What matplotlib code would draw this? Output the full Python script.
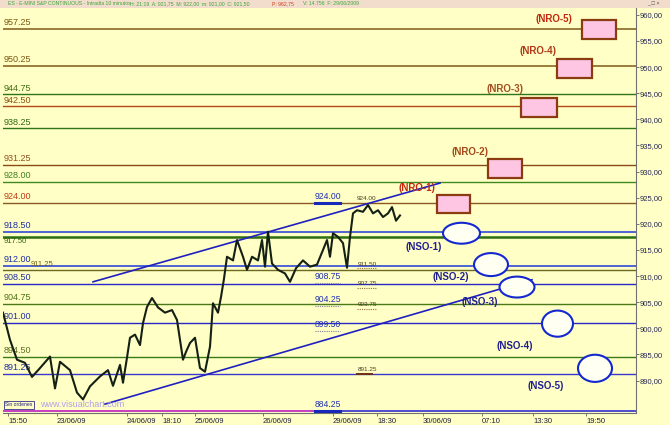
import matplotlib.pyplot as plt
from matplotlib.patches import Rectangle, Ellipse
import numpy as np

plt.rcParams['font.family'] = ['Liberation Sans', 'DejaVu Sans']

# price trace (10 min bars, x = bar position on the time axis)
price_x = [3, 10, 17, 25, 32, 40, 50, 55, 60, 70, 77, 83, 90, 100, 108, 113, 120, 123,
           127, 130, 135, 140, 143, 147, 152, 158, 165, 172, 177, 180, 183, 186, 190, 195,
           200, 205, 210, 213, 218, 221, 224, 227, 233, 237, 243, 247, 252, 258, 262, 265,
           268, 272, 278, 285, 290, 296, 303, 310, 317, 323, 327, 330, 333, 338, 343, 347,
           350, 353, 357, 363, 368, 373, 378, 383, 388, 392, 396, 400]
price_y = [903.0, 897.8, 894.0, 893.4, 890.7, 892.4, 894.6, 888.5, 893.6, 892.0, 887.7, 886.4,
           888.9, 890.8, 892.0, 889.0, 893.0, 889.6,
           894.4, 898.2, 898.8, 896.8, 901.0, 904.1, 905.8, 904.0, 903.0, 903.5, 901.6, 897.8,
           894.0, 895.5, 897.2, 898.2, 892.4, 891.7, 896.5, 904.8, 903.0, 906.0, 909.5, 913.7,
           913.0, 916.9, 913.7, 911.2, 913.7, 913.0, 916.9, 911.8, 918.5, 912.4, 911.2, 910.5,
           908.9, 911.5, 913.0, 911.8, 912.2, 915.0, 916.9, 913.7, 918.2, 917.5, 916.3, 911.6,
           917.5, 922.0, 922.6, 922.3, 923.6, 922.0, 922.6, 921.3, 922.0, 923.2, 920.6, 921.6]

# horizontal levels
level_prices = [957.25, 950.25, 944.75, 942.50, 938.25, 931.25, 928.00, 924.00, 918.50,
                917.50, 912.00, 911.25, 908.50, 904.75, 901.00, 894.50, 891.25, 884.25]
level_labels = ['957.25', '950.25', '944.75', '942.50', '938.25', '931.25', '928.00', '924.00',
                '918.50', '917.50', '912.00', '911.25', '908.50', '904.75', '901.00', '894.50',
                '891.25', '']
level_colors = ['#7d5a18', '#7d5a18', '#2f7418', '#b04818', '#2f7418', '#8a4a18', '#3f8a20',
                '#8a5a20', '#3048d8', '#2c6e10', '#3048d8', '#6e6a20', '#2828c8', '#4a7a18',
                '#2828c8', '#3a7a18', '#3838d0', '#3030d0']
label_colors = ['#7a5810', '#7a5810', '#3e6e10', '#8a5010', '#2e6a10', '#905020', '#3e8020',
                '#c03818', '#2030a0', '#306010', '#2030a0', '#706010', '#2030a0', '#4a7010',
                '#2030a0', '#5a7020', '#2030a0', '#2030a0']
level_widths = [1.1, 1.1, 1.0, 1.0, 1.0, 1.0, 1.0, 1.0, 1.2, 1.8, 1.2, 1.0, 1.0, 1.0, 1.0, 1.0, 1.0, 1.2]

# channel lines (x0, p0, x1, p1)
channels = [(93, 908.9, 440, 927.8), (105, 885.5, 532, 909.3)]

# NRO boxes
nro_names = ['(NRO-1)', '(NRO-2)', '(NRO-3)', '(NRO-4)', '(NRO-5)']
nro_x = [(437, 470), (488, 522), (521, 557), (557, 592), (582, 616)]
nro_p = [(922.0, 925.6), (928.8, 932.4), (940.4, 944.1), (947.9, 951.5), (955.3, 959.0)]
nro_lab = [(417, 926.8), (470, 933.75), (505, 945.8), (538, 953.1), (554, 959.2)]
nro_col = ['#c82810', '#a04818', '#a05020', '#b03818', '#c02810']

# NSO ellipses
nso_names = ['(NSO-1)', '(NSO-2)', '(NSO-3)', '(NSO-4)', '(NSO-5)']
nso_c = [(461.5, 918.2), (491, 912.2), (517, 907.9), (557.5, 900.9), (595, 892.35)]
nso_wh = [(37, 4.0), (34, 4.4), (35, 4.0), (31, 5.0), (34, 5.2)]
nso_lab = [(424, 915.6), (451, 909.85), (480, 905.1), (515, 896.65), (546, 889.0)]

# value tags inside the chart
tag_blue = ['924.00', '908.75', '904.25', '899.50', '884.25']
tag_blue_p = [924.00, 908.75, 904.25, 899.50, 884.25]
tag_small = ['924.00', '911.50', '907.75', '903.75', '891.25']
tag_small_p = [924.00, 911.50, 907.75, 903.75, 891.25]

tick_pos = [8, 57, 127, 162, 195, 263, 333, 377, 423, 482, 533, 586]
tick_lab = ['15:50', '23/06/09', '24/06/09', '18:10', '25/06/09', '26/06/09', '29/06/09',
            '18:30', '30/06/09', '07:10', '13:30', '19:50']
yticks = [890, 895, 900, 905, 910, 915, 920, 925, 930, 935, 940, 945, 950, 955, 960]

bg = '#ffffc6'
fig = plt.figure(figsize=(6.7, 4.25), dpi=100, facecolor=bg)
ax = fig.add_axes([3/670, 12/425, 633/670, 405/425], facecolor=bg)
ax.set_xlim(3, 636)
ax.set_ylim(883.8, 961.3)

# title bar
fig.patches.append(Rectangle((0, 1 - 7.5/425), 1, 7.5/425, transform=fig.transFigure,
                             facecolor='#f2dccb', edgecolor='none'))
ty = 1 - 3.8/425
fig.text(8/670, ty, 'ES - E-MINI S&P CONTINUOUS - Intradia 10 minutos', fontsize=3.7,
         color='#38a838', va='center')
fig.text(130/670, ty, 'H: 21:19  A: 921,75  M: 922,00  m: 921,00  C: 921,50', fontsize=3.7,
         color='#38a838', va='center')
fig.text(272/670, ty, 'P: 962,75', fontsize=3.7, color='#d04020', va='center')
fig.text(303/670, ty, 'V: 14.756  F: 29/06/2009', fontsize=3.7, color='#38a838', va='center')
fig.text(0.985, ty, '_ □ ×', fontsize=4, color='#505050', va='center', ha='right')

for p, c, w in zip(level_prices, level_colors, level_widths):
    ax.axhline(p, color=c, lw=w, zorder=2)
ax.plot([3, 314], [884.25, 884.25], color='#e040c0', lw=1.2, zorder=2)

for p, t, c in zip(level_prices, level_labels, label_colors):
    if not t:
        continue
    if t == '917.50':
        # crowded pair: tucked under its own line
        ax.annotate(t, (4, p), xytext=(0, -1.0), textcoords='offset points',
                    fontsize=5.5, color=c, va='top', ha='left', zorder=4)
    elif t == '911.25':
        # crowded pair: shifted right of 912.00
        ax.annotate(t, (31, p), xytext=(0, 1.0), textcoords='offset points',
                    fontsize=5.5, color=c, va='bottom', ha='left', zorder=4)
    else:
        ax.annotate(t, (4, p), xytext=(0, 1.2), textcoords='offset points',
                    fontsize=6.5, color=c, va='bottom', ha='left', zorder=4)

for x0, p0, x1, p1 in channels:
    ax.plot([x0, x1], [p0, p1], color='#2020c0', lw=1.2, zorder=3)

ax.plot(price_x, price_y, color='#142014', lw=1.5, zorder=5)

for (xl, xr), (lo, hi), name, (lx, lp), col in zip(nro_x, nro_p, nro_names, nro_lab, nro_col):
    ax.add_patch(Rectangle((xl, lo), xr - xl, hi - lo, facecolor='#ffc6e4',
                           edgecolor='#8a3c10', lw=1.6, zorder=6))
    ax.text(lx, lp, name, color=col, fontsize=7, fontweight='bold', ha='center', va='center', zorder=7)

for (cx, cp), (w, h), name, (lx, lp) in zip(nso_c, nso_wh, nso_names, nso_lab):
    ax.add_patch(Ellipse((cx, cp), w, h, facecolor='#fffff2', edgecolor='#1428d0', lw=1.5, zorder=6))
    ax.text(lx, lp, name, color='#202090', fontsize=7, fontweight='bold', ha='center', va='center', zorder=7)

for t, p in zip(tag_blue, tag_blue_p):
    ax.annotate(t, (328, p), xytext=(0, 1.5), textcoords='offset points', fontsize=6.2,
                color='#2030b0', ha='center', va='bottom', zorder=7)
    if t in ('924.00', '884.25'):
        ax.plot([315, 340], [p, p], color='#1828b8', lw=2.2, zorder=6)
    else:
        ax.plot([315, 340], [p, p], color='#8080a0', lw=0.8, ls=(0, (1, 1)), zorder=6)

for t, p in zip(tag_small, tag_small_p):
    ax.annotate(t, (367, p), xytext=(0, 1.2), textcoords='offset points', fontsize=4.6,
                color='#4a3a20', ha='center', va='bottom', zorder=7)
    if t == '891.25':
        ax.plot([357, 372], [p, p], color='#703010', lw=1.4, zorder=6)
    elif t != '924.00':
        ax.plot([357, 377], [p, p], color='#907040', lw=0.8, ls=(0, (1, 1)), zorder=6)

ax.text(5, 885.35, 'Sin ordenes', fontsize=3.6, color='#202080', va='center', ha='left', zorder=8,
        bbox=dict(boxstyle='square,pad=0.25', facecolor=bg, edgecolor='#303090', lw=0.6))
ax.text(40, 885.35, 'www.visualchart.com', fontsize=6.5, color='#b0a0e8', va='center', ha='left', zorder=8)

ax.yaxis.tick_right()
ax.set_yticks(yticks)
ax.set_yticklabels([('%.2f' % v).replace('.', ',') for v in yticks])
ax.set_xticks(tick_pos)
ax.set_xticklabels(tick_lab, ha='left')
ax.tick_params(axis='y', labelsize=5.5, length=2, width=0.6, pad=0.8, colors='#606060')
ax.tick_params(axis='y', labelcolor='#282858')
ax.tick_params(axis='x', labelsize=5.5, length=2.5, width=0.6, pad=1, colors='#606060')
ax.tick_params(axis='x', labelcolor='#202040')
for s in ('left', 'top'):
    ax.spines[s].set_visible(False)
ax.spines['right'].set_color('#707070')
ax.spines['right'].set_linewidth(0.8)
ax.spines['bottom'].set_color('#707070')
ax.spines['bottom'].set_linewidth(0.8)

fig.savefig('out.png', dpi=100, facecolor=bg)
